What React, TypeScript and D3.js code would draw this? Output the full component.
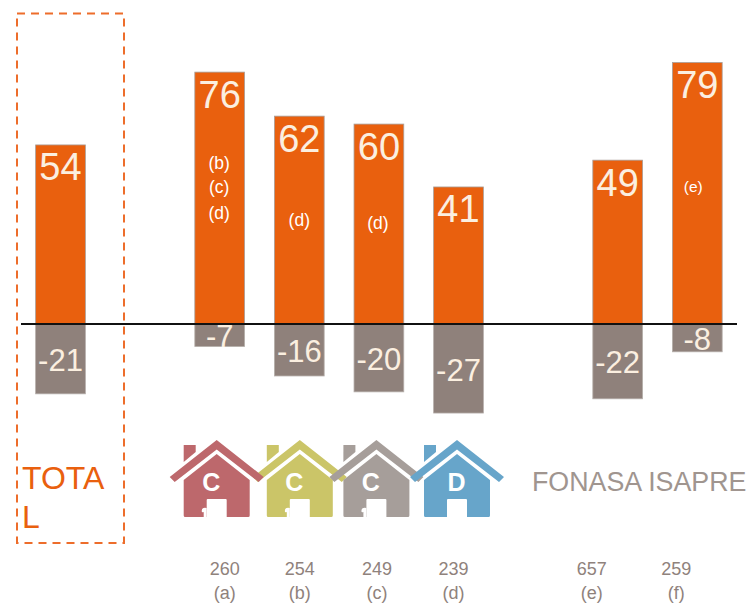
import React from "react";
import * as d3 from "d3";

const categories = ["TOTAL", "gap1", "a", "b", "c", "d", "gap2", "e", "f"];
const barCategories = ["TOTAL", "a", "b", "c", "d", "e", "f"];
const positiveLabels = [54, 76, 62, 60, 41, 49, 79];
const negativeLabels = [-21, -7, -16, -20, -27, -22, -8];
const positives = [54.1, 76.1, 62.8, 60.4, 41.4, 49.5, 79];
const negatives = [-21.1, -6.8, -15.7, -20.5, -26.9, -22.6, -8.4];
const sigLabels = [[], ["(b)", "(c)", "(d)"], ["(d)"], ["(d)"], [], [], ["(e)"]];
const countCats = ["a", "b", "c", "d", "e", "f"];
const counts = ["260", "254", "249", "239", "657", "259"];
const countLetters = ["(a)", "(b)", "(c)", "(d)", "(e)", "(f)"];
const houseCats = ["b", "a", "c", "d"];
const houseLetters = ["C", "C", "C", "D"];
const houseColors = ["#cbc568", "#bd686c", "#a69e9a", "#67a5ca"];

const ORANGE = "#e9600e";
const TAUPE = "#8f817b";
const CREAM = "#fbefe0";

const x = d3.scaleBand<string>().domain(categories).range([20.7, 737.1]).paddingInner(0.375).paddingOuter(0.1875);
const y = d3.scaleLinear().domain([-30, 80]).range([324 + 30 * 3.31, 324 - 80 * 3.31]);

const sigY: Record<string, number[]> = { a: [168.5, 192.5, 218.5], b: [226], c: [229], f: [191.5] };
const sigDx: Record<string, number> = { a: -0.5, b: 0, c: -1, f: -4 };
const countOffset = [5, 0.5, -2, -5, -26, -21];
const houseOffset: Record<string, number> = { a: -3, b: 0.5, c: -2.5, d: -1.5 };

const roof = "M-47,37 L0,0 L47,37 L42,42 L0,9.5 L-42,42 Z";
const chimney = "M-33,5 L-21,5 L-21,12 L-33,22 Z";
const body = "M0,14 L33,40 L33,75.5 Q33,77 31.5,77 L10,77 L10,60 Q10,59 9,59 L-9,59 Q-10,59 -10,60 L-10,77 L-31.5,77 Q-33,77 -33,75.5 L-33,40 Z";
const curl = "M-10,68 Q-15,67 -15,71 Q-15,73 -13,72 L-13,77 L-10,77 Z";

export default function App() {
  const bw = x.bandwidth();
  const c = (k: string) => (x(k) as number) + bw / 2;
  return (
    <svg width={750} height={605} style={{ position: "absolute", left: 0, top: 0, background: "#fff" }} fontFamily="'Liberation Sans', Arial, sans-serif">
      {barCategories.map((k, i) => (
        <g key={k}>
          <rect x={x(k)} y={y(positives[i])} width={bw} height={y(0) - y(positives[i])} fill={ORANGE} stroke="#a89f9a" strokeWidth={0.8} />
          <rect x={x(k)} y={y(0)} width={bw} height={y(negatives[i]) - y(0)} fill={TAUPE} stroke="#b5aeaa" strokeWidth={0.8} />
        </g>
      ))}
      <line x1={21} x2={737} y1={y(0)} y2={y(0)} stroke="#111" strokeWidth={2} />
      {barCategories.map((k, i) => (
        <g key={k} textAnchor="middle" fill={CREAM}>
          <text x={c(k)} y={y(positives[i]) + 35.5} fontSize={38}>{positiveLabels[i]}</text>
          <text x={c(k)} y={(y(0) + y(negatives[i])) / 2 + 12} fontSize={31}>{negativeLabels[i]}</text>
          {sigLabels[i].map((s, j) => (
            <text key={s} x={c(k) + sigDx[k]} y={sigY[k][j]} fontSize={k === "f" ? 15.5 : 17.5} fill="#fff">{s}</text>
          ))}
        </g>
      ))}
      <rect x={17} y={13.5} width={107} height={529.5} fill="none" stroke="#ed6d2b" strokeWidth={2} strokeDasharray="8 6" />
      <g fill={ORANGE} fontSize={32}>
        <text x={22} y={489}>TOTA</text>
        <text x={22} y={528}>L</text>
      </g>
      <text x={532} y={491} fontSize={26.8} fill="#a0958f">FONASA ISAPRE</text>
      {houseCats.map((k, i) => {
        const hx = c(k) + houseOffset[k];
        return (
          <g key={k} transform={`translate(${hx},440)`}>
            <path d={roof} fill={houseColors[i]} />
            <path d={chimney} fill={houseColors[i]} />
            <path d={body} fill={houseColors[i]} />
            {houseLetters[i] === "C" && <path d={curl} fill="#fff" />}
            <text x={-5.5 + (i === 3 ? 5 : 0)} y={51} textAnchor="middle" fontSize={25} fontWeight="bold" fill="#fff">{houseLetters[i]}</text>
          </g>
        );
      })}
      {countCats.map((k, i) => (
        <g key={k} textAnchor="middle" fontSize={18} fill="#8f827c">
          <text x={c(k) + countOffset[i]} y={575}>{counts[i]}</text>
          <text x={c(k) + countOffset[i]} y={599}>{countLetters[i]}</text>
        </g>
      ))}
    </svg>
  );
}
